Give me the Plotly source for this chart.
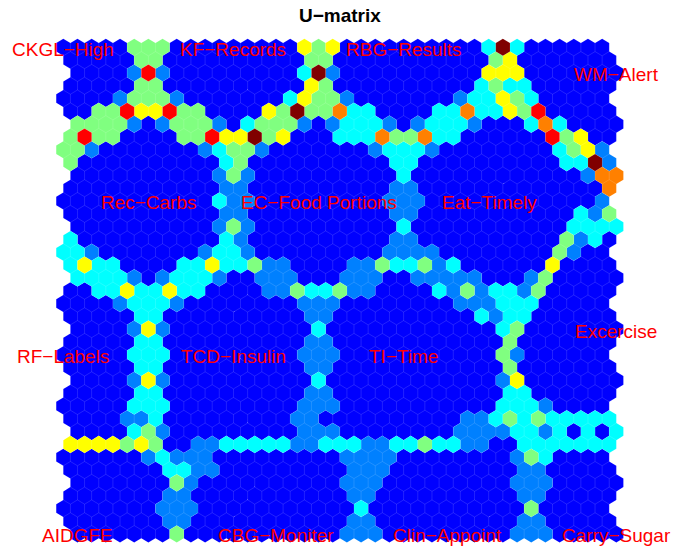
import plotly.graph_objects as go

# Colour level of every map unit (0 = lowest distance, 7 = highest); cells not listed are level 0.
N_COLS = 39
LEVEL_COLOURS = ["#0000FF", "#0080FF", "#00FFFF", "#80FF80", "#FFFF00", "#FF8000", "#FF0000", "#800000"]

def r(*runs):
    out = {}
    for start, end, level in runs:
        for c in range(start, end + 1):
            out[c] = level
    return out

U_ROWS = [
    r((5,7,3),(17,17,4),(18,18,3),(19,19,4),(30,30,2),(31,31,7),(32,32,2)),
    r((5,6,3),(17,18,3),(30,30,3),(31,31,4)),
    r((4,4,1),(5,5,6),(6,6,1),(16,16,2),(17,17,7),(18,18,1),(29,31,4)),
    r((5,6,3),(17,17,4),(18,18,3),(29,29,2),(30,30,3),(31,32,2)),
    r((4,4,1),(5,7,3),(8,8,1),(16,16,2),(17,17,4),(18,19,3),(20,20,1),(28,28,1),(29,30,2),(31,31,4),(32,32,3),(33,33,2)),
    r((2,3,3),(4,4,6),(5,6,4),(7,7,6),(8,9,3),(14,14,4),(15,15,3),(16,16,7),(17,18,3),(19,19,5),(20,21,2),(26,27,2),(28,28,5),(29,30,2),(31,31,4),(32,32,3),(33,33,6)),
    r((0,3,3),(4,4,1),(6,6,1),(7,9,3),(10,10,1),(12,12,2),(13,15,3),(16,16,1),(18,18,1),(19,21,2),(22,22,1),(24,24,1),(25,27,2),(28,28,1),(32,32,2),(33,33,5),(34,34,2)),
    r((0,0,3),(1,1,6),(2,3,3),(8,9,3),(10,10,6),(11,12,4),(13,13,7),(14,14,3),(15,15,4),(19,21,2),(22,22,5),(23,24,3),(25,25,5),(26,27,2),(34,34,6),(35,35,3),(36,36,4)),
    r((0,1,3),(2,2,1),(10,10,1),(11,11,2),(12,13,3),(14,14,1),(22,22,1),(23,25,2),(26,26,1),(35,35,2),(36,36,3),(37,37,4),(38,38,1)),
    r((0,0,3),(11,11,2),(12,12,3),(23,24,2),(35,36,2),(37,37,7),(38,38,1)),
    r((10,10,1),(11,11,3),(12,12,1),(23,23,2),(36,36,1),(37,38,5)),
    r((11,12,1),(23,24,1),(38,38,5)),
    r((11,11,2),(12,13,1),(23,25,1),(38,38,1)),
    r((11,12,1),(23,24,1),(36,36,2),(37,37,1),(38,38,3)),
    r((10,10,1),(11,11,3),(12,12,1),(23,23,2),(35,38,2)),
    r((0,0,2),(11,11,2),(12,12,1),(23,24,1),(35,35,3),(36,36,1),(37,37,2)),
    r((0,1,2),(2,2,1),(10,10,1),(11,12,2),(13,13,1),(23,26,1),(35,35,3),(36,36,1)),
    r((0,0,2),(1,1,4),(2,3,2),(8,9,2),(10,10,4),(11,12,2),(13,13,3),(14,15,1),(20,21,1),(22,22,3),(23,24,2),(25,25,3),(26,26,1),(27,27,2),(34,34,4)),
    r((0,3,2),(4,4,1),(6,6,1),(7,9,2),(10,10,1),(13,15,1),(19,21,1),(24,28,1),(32,32,1),(33,33,3)),
    r((2,3,2),(4,4,4),(5,6,2),(7,7,4),(8,9,2),(14,15,1),(16,16,3),(17,18,2),(19,19,3),(20,21,1),(26,26,2),(27,27,1),(28,28,3),(29,29,1),(30,31,2),(32,32,1),(33,33,3)),
    r((4,4,1),(5,7,2),(8,8,1),(17,19,1),(28,30,1),(31,33,2)),
    r((5,6,2),(17,18,1),(29,29,2),(30,30,1),(31,32,2)),
    r((4,4,1),(5,5,4),(6,6,1),(17,17,2),(30,30,2),(31,31,3)),
    r((5,6,2),(17,18,1),(31,31,3)),
    r((5,7,2),(17,19,1),(31,31,3),(32,32,1)),
    r((5,6,2),(17,18,1),(31,31,3)),
    r((4,4,1),(5,5,4),(6,6,1),(17,17,2),(30,30,1),(31,31,4)),
    r((5,6,2),(17,18,1),(31,32,2)),
    r((5,7,2),(17,19,1),(31,33,2),(34,34,1)),
    r((4,5,1),(6,6,2),(16,17,1),(28,29,1),(30,30,2),(31,31,3),(32,32,2),(33,33,3),(34,38,2)),
    r((4,4,2),(5,5,3),(6,6,1),(16,18,1),(27,30,1),(31,32,2),(33,33,1),(34,34,2),(36,36,2),(38,38,2)),
    r((0,3,4),(4,4,3),(5,5,4),(6,6,3),(9,10,1),(11,15,2),(16,17,1),(18,20,2),(21,22,1),(23,24,2),(25,25,3),(26,27,2),(28,29,1),(32,38,2)),
    r((6,6,1),(7,7,2),(8,10,1),(20,23,1),(32,32,1),(33,33,3),(34,34,2)),
    r((7,8,2),(9,10,1),(20,22,1),(32,33,1)),
    r((7,7,3),(8,8,1),(19,21,1),(31,33,1)),
    r((7,8,1),(20,21,1),(32,33,1)),
    r((7,9,1),(21,21,2),(33,33,3)),
    r((7,8,1),(20,21,1),(32,33,1)),
    r((7,7,3),(19,21,1),(31,33,1)),
]

TITLE = "U\u2212matrix"
LABELS = ["CKGL\u2212High", "KF\u2212Records", "RBG\u2212Results", "WM\u2212Alert",
          "Rec\u2212Carbs", "EC\u2212Food Portions", "Eat\u2212Timely", "Excercise",
          "RF\u2212Labels", "TCD\u2212Insulin", "TI\u2212Time",
          "AIDGFE", "CBG\u2212Moniter", "Clin\u2212Appoint", "Carry\u2212Sugar"]
LABEL_X = [63, 233, 404, 616, 149, 319, 489, 616, 63, 233, 404, 77, 276, 447, 616]
LABEL_Y = [49, 49, 49, 75, 202, 202, 202, 331, 356, 356, 356, 535, 535, 535, 535]

W, H = 695, 546
X0, DX, Y0, DY = 63.3, 14.18, 47.3, 12.81
ROW_SHIFT = [0, 0.5, 1, 0.5]

xs = {i: [] for i in range(len(LEVEL_COLOURS))}
ys = {i: [] for i in range(len(LEVEL_COLOURS))}
for row, levels in enumerate(U_ROWS):
    for col in range(N_COLS):
        lv = levels.get(col, 0)
        cx = col + ROW_SHIFT[row % 4]
        xs[lv] += [cx, cx + .5, cx + .5, cx, cx - .5, cx - .5, cx, None]
        ys[lv] += [row - 2/3, row - 1/3, row + 1/3, row + 2/3, row + 1/3, row - 1/3, row - 2/3, None]

fig = go.Figure()
for lv, colour in enumerate(LEVEL_COLOURS):
    fig.add_trace(go.Scatter(x=xs[lv], y=ys[lv], mode="lines", fill="toself", fillcolor=colour,
                             line=dict(color="rgba(255,255,255,0.14)", width=0.5),
                             hoverinfo="skip", showlegend=False))

for t, px, py in zip(LABELS, LABEL_X, LABEL_Y):
    fig.add_annotation(x=px / W, y=1 - py / H, xref="paper", yref="paper", text=t, showarrow=False,
                       xanchor="center", yanchor="middle",
                       font=dict(family="Liberation Sans", size=19, color="#FF0000"))
fig.add_annotation(x=340 / W, y=1 - 15 / H, xref="paper", yref="paper", text=TITLE, showarrow=False,
                   xanchor="center", yanchor="middle",
                   font=dict(family="Liberation Sans", size=19, color="#000000", weight="bold"))

fig.update_layout(
    width=W, height=H, margin=dict(l=0, r=0, t=0, b=0),
    paper_bgcolor="white", plot_bgcolor="white",
    xaxis=dict(visible=False, range=[-X0 / DX, (W - X0) / DX]),
    yaxis=dict(visible=False, range=[(H - Y0) / DY, -Y0 / DY]),
)
fig.write_html("out.html", config={"displayModeBar": False},
               post_script="document.body.style.margin='0';document.body.style.overflow='hidden';")
